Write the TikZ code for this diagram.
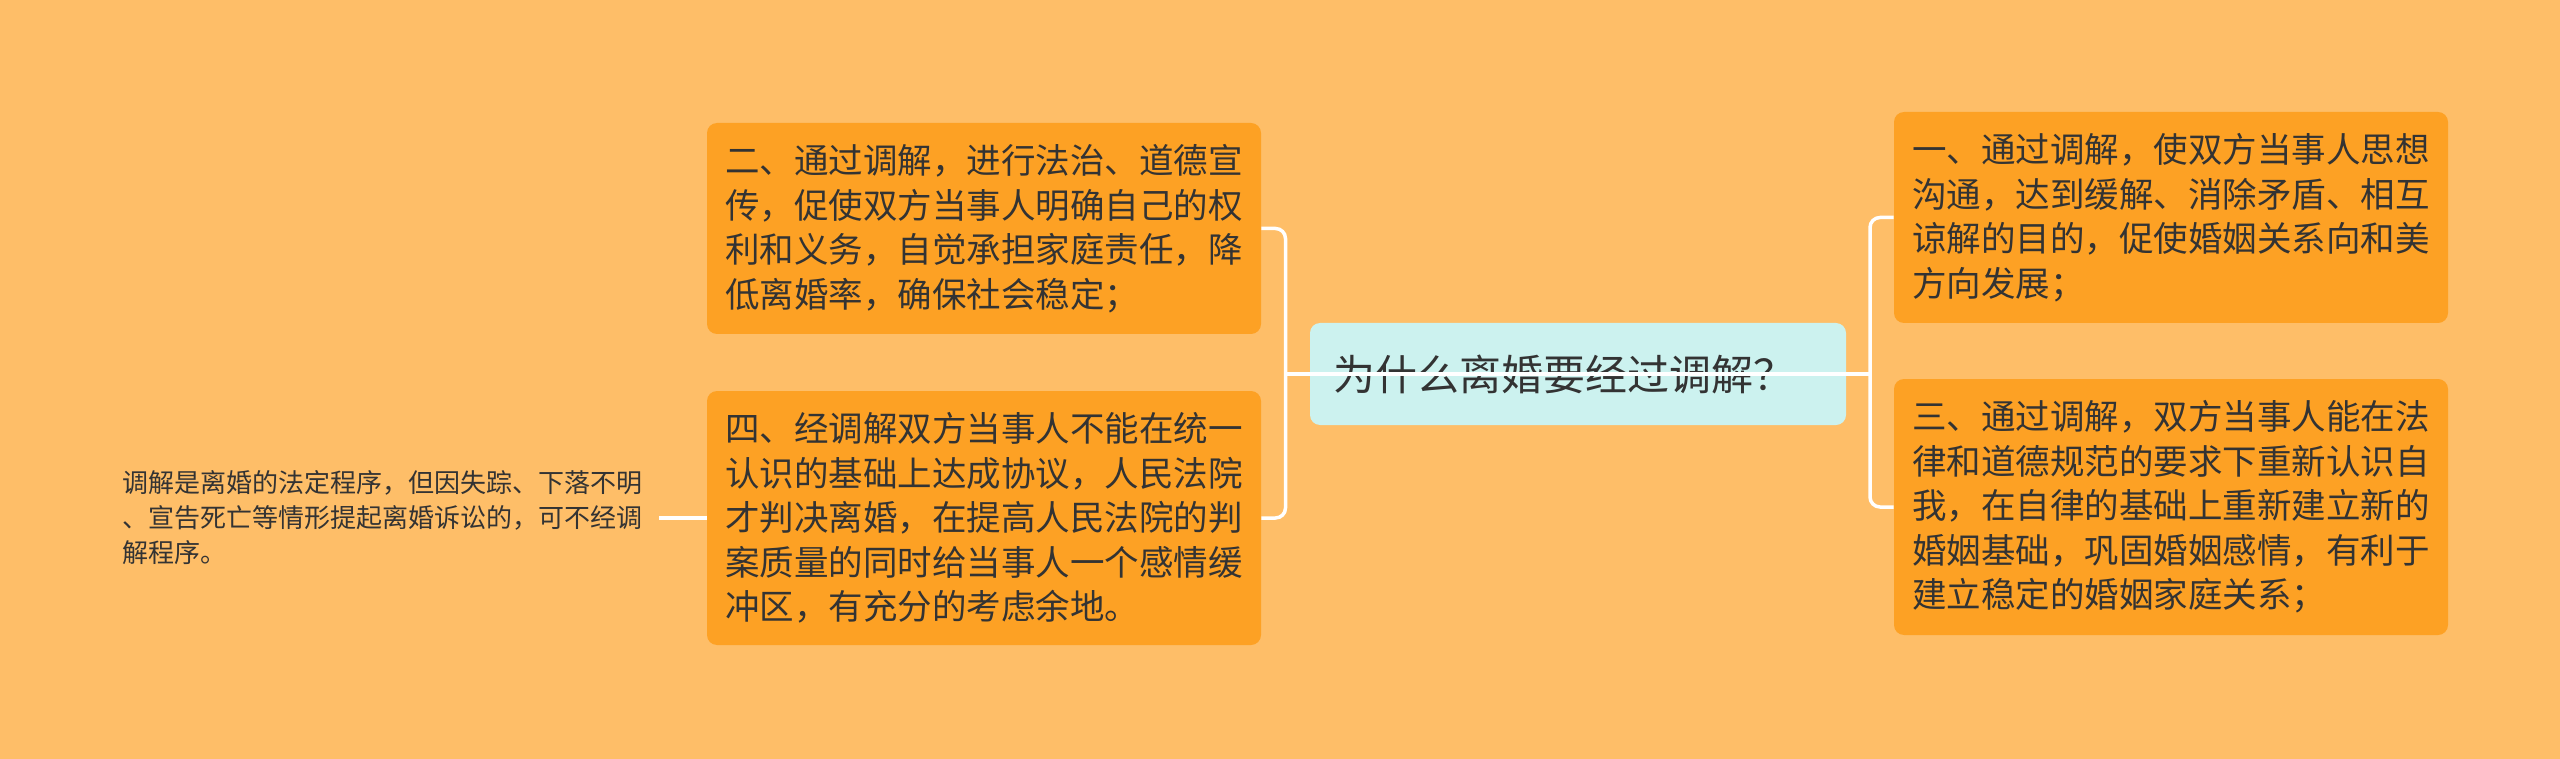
\documentclass[tikz,border=0pt]{standalone}
\usepackage{fontspec}
\setmainfont{Noto Sans CJK SC}
\usetikzlibrary{calc}
\definecolor{bg}{HTML}{FEBE68}
\definecolor{leaf}{HTML}{FDA124}
\definecolor{rootc}{HTML}{CCF2EF}
\definecolor{ink}{HTML}{333333}

\begin{document}
\begin{tikzpicture}[x=0.5pt,y=-0.5pt,
        box/.style={fill=leaf,rounded corners=5pt,text=ink,align=left,
            font=\fontsize{17.25pt}{22.25pt}\selectfont,text width=259pt,inner xsep=9pt,inner ysep=0pt},
        note/.style={text=ink,align=left,font=\fontsize{13pt}{17.5pt}\selectfont,text width=261pt,inner xsep=7pt},
        link/.style={draw=white,line width=1.75pt}]
                \fill [bg] (0,0) rectangle (2560,759);
                \useasboundingbox (0,0) rectangle (2560,759);
                \node [box,fill=rootc,minimum height=51pt,text width=245pt,inner xsep=11.5pt,
                    font=\fontsize{21pt}{25pt}\selectfont] (q) at (1578,374) {为什么离婚要经过调解？};
                \node [box,minimum height=105.5pt] (p2) at (984,228.5) {二、通过调解，进行法治、道德宣\\传，促使双方当事人明确自己的权\\利和义务，自觉承担家庭责任，降\\低离婚率，确保社会稳定；};
                \node [box,minimum height=127pt] (p4) at (984,518) {四、经调解双方当事人不能在统一\\认识的基础上达成协议，人民法院\\才判决离婚，在提高人民法院的判\\案质量的同时给当事人一个感情缓\\冲区，有充分的考虑余地。};
                \node [box,minimum height=105.5pt] (p1) at (2171,217.5) {一、通过调解，使双方当事人思想\\沟通，达到缓解、消除矛盾、相互\\谅解的目的，促使婚姻关系向和美\\方向发展；};
                \node [box,minimum height=128pt] (p3) at (2171,507) {三、通过调解，双方当事人能在法\\律和道德规范的要求下重新认识自\\我，在自律的基础上重新建立新的\\婚姻基础，巩固婚姻感情，有利于\\建立稳定的婚姻家庭关系；};
                \node [note,anchor=east] (n) at (659,518) {调解是离婚的法定程序，但因失踪、下落不明\\、宣告死亡等情形提起离婚诉讼的，可不经调\\解程序。};
                \coordinate (jl) at ($(p2.east)!.5!(q.west)$);
                \coordinate (jr) at ($(q.east)!.5!(p1.west)$);
                \draw [link,rounded corners=5pt] (p2.east) -| (jl |- p4.east) -- (p4.east);
                \draw [link,rounded corners=5pt] (p1.west) -| (jr |- p3.west) -- (p3.west);
                \draw [link] (jl |- q) -- (jr |- q);
                \draw [link] (n.east) -- (p4.west);
            \end{tikzpicture}
\end{document}
